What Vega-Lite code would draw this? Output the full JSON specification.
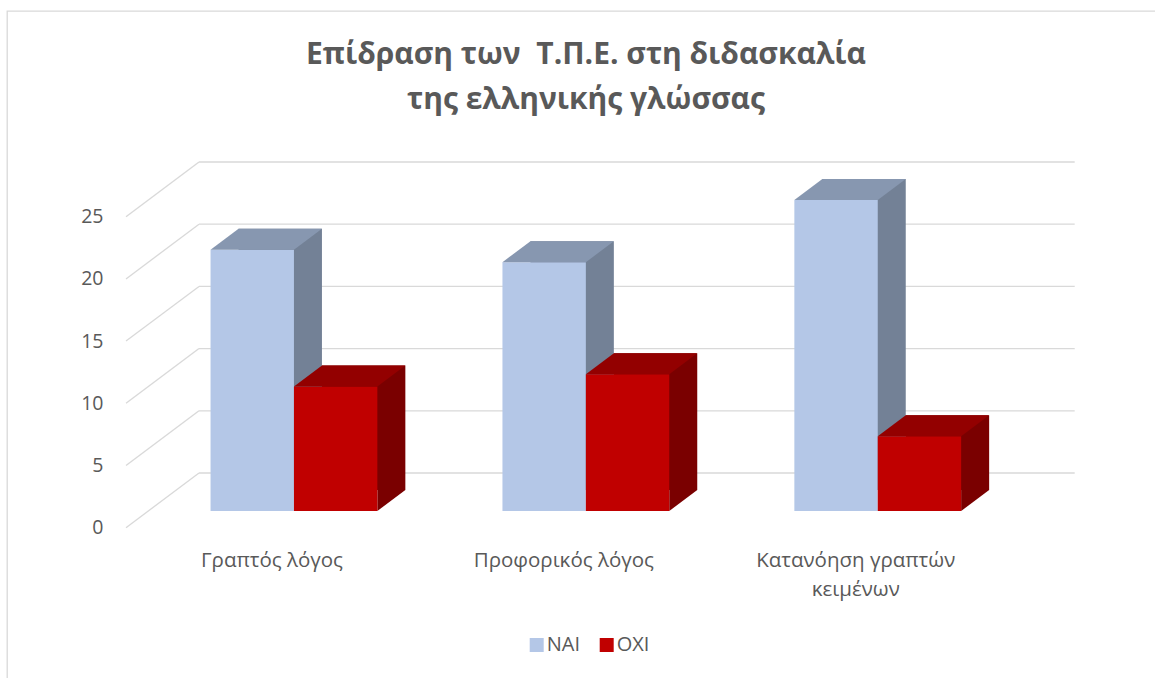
{
  "$schema": "https://vega.github.io/schema/vega-lite/v6.json",
  "width": 1158,
  "height": 672,
  "autosize": {"type": "none"},
  "padding": {"left": 7, "top": 11, "right": -10, "bottom": -5},
  "background": "white",
  "config": {
    "view": {"stroke": "#D9D9D9", "strokeWidth": 1.3},
    "font": "Open Sans"
  },
  "title": {
    "text": ["Επίδραση των \u00a0Τ.Π.Ε. στη διδασκαλία", "της ελληνικής γλώσσας"],
    "font": "Open Sans",
    "fontSize": 30,
    "fontWeight": "bold",
    "color": "#595959",
    "anchor": "middle",
    "frame": "group",
    "baseline": "alphabetic",
    "lineHeight": 45,
    "offset": -128
  },
  "datasets": {
    "bars": [
      {"cat": "Γραπτός λόγος", "series": "ΝΑΙ", "value": 21},
      {"cat": "Γραπτός λόγος", "series": "ΟΧΙ", "value": 10},
      {"cat": "Προφορικός λόγος", "series": "ΝΑΙ", "value": 20},
      {"cat": "Προφορικός λόγος", "series": "ΟΧΙ", "value": 11},
      {"cat": "Κατανόηση γραπτών κειμένων", "series": "ΝΑΙ", "value": 25},
      {"cat": "Κατανόηση γραπτών κειμένων", "series": "ΟΧΙ", "value": 6}
    ],
    "ticks": [
      {"value": 0}, {"value": 5}, {"value": 10}, {"value": 15}, {"value": 20}, {"value": 25}
    ]
  },
  "encoding": {
    "x": {
      "field": "cat",
      "type": "nominal",
      "sort": null,
      "scale": {
        "domain": ["Γραπτός λόγος", "Προφορικός λόγος", "Κατανόηση γραπτών κειμένων"],
        "range": [119, 994.7],
        "paddingInner": 0,
        "paddingOuter": 0
      },
      "axis": {
        "orient": "bottom",
        "offset": -155.3,
        "domain": false,
        "ticks": false,
        "grid": false,
        "labelPadding": 38.3,
        "labelBaseline": "alphabetic",
        "labelFont": "Open Sans",
        "labelFontSize": 20.5,
        "labelColor": "#595959",
        "labelLimit": 0,
        "labelAngle": 0,
        "labelLineHeight": 29,
        "labelExpr": "datum.label == 'Κατανόηση γραπτών κειμένων' ? ['Κατανόηση γραπτών', 'κειμένων'] : datum.label",
        "title": null
      }
    },
    "y": {
      "field": "value",
      "type": "quantitative",
      "stack": null,
      "scale": {"domain": [0, 25], "range": [516.7, 205.7], "nice": false, "zero": true},
      "axis": {
        "orient": "left",
        "offset": -119,
        "domain": false,
        "ticks": false,
        "grid": false,
        "labelPadding": 23,
        "values": [0, 5, 10, 15, 20, 25],
        "labelFont": "Open Sans",
        "labelFontSize": 19.5,
        "labelColor": "#595959",
        "title": null
      }
    }
  },
  "layer": [
    {
      "data": {"name": "ticks"},
      "mark": {"type": "rule", "color": "#D9D9D9", "strokeWidth": 1.3, "xOffset": 73, "x2Offset": 73, "yOffset": -54.7, "y2Offset": -54.7},
      "encoding": {
        "x": {"datum": "Γραπτός λόγος", "type": "nominal", "bandPosition": 0},
        "x2": {"datum": "Κατανόηση γραπτών κειμένων", "bandPosition": 1},
        "y2": {"field": "value"}
      }
    },
    {
      "data": {"name": "ticks"},
      "mark": {"type": "rule", "color": "#D9D9D9", "strokeWidth": 1.3, "x2Offset": 73, "y2Offset": -54.7},
      "encoding": {
        "x": {"datum": "Γραπτός λόγος", "type": "nominal", "bandPosition": 0},
        "x2": {"datum": "Γραπτός λόγος", "bandPosition": 0},
        "y2": {"field": "value"}
      }
    },
    {
      "data": {"name": "bars"},
      "transform": [{"filter": "datum.series == 'ΝΑΙ'"}],
      "mark": {"type": "bar", "width": {"band": 0.2857}, "color": "#738196", "xOffset": 8.3, "yOffset": -37.7, "y2Offset": -37.7},
      "encoding": {"y2": {"datum": 0}}
    },
    {
      "data": {"name": "bars"},
      "transform": [{"filter": "datum.series == 'ΟΧΙ'"}],
      "mark": {"type": "bar", "width": {"band": 0.2857}, "color": "#7A0000", "xOffset": 91.7, "yOffset": -37.7, "y2Offset": -37.7},
      "encoding": {"y2": {"datum": 0}}
    },
    {
      "data": {"name": "bars"},
      "transform": [{"filter": "datum.series == 'ΟΧΙ'"}],
      "mark": {"type": "point", "shape": "M41.7,0L41.7,-21L69.7,-21Z", "size": 4, "filled": true, "opacity": 1, "strokeWidth": 0, "color": "#7A0000", "xOffset": 63.7, "yOffset": -16.7},
      "encoding": {"y": {"datum": 0, "type": "quantitative"}}
    },
    {
      "data": {"name": "bars"},
      "transform": [{"filter": "datum.series == 'ΝΑΙ'"}],
      "mark": {"type": "bar", "width": {"band": 0.2857}, "xOffset": -19.7, "yOffset": -16.7, "y2Offset": -16.7},
      "encoding": {
        "y2": {"datum": 0},
        "color": {
          "field": "series",
          "type": "nominal",
          "scale": {"domain": ["ΝΑΙ", "ΟΧΙ"], "range": ["#B4C7E7", "#C00000"]},
          "legend": {
            "orient": "none",
            "legendX": 519.7,
            "legendY": 624,
            "direction": "horizontal",
            "title": null,
            "symbolType": "square",
            "symbolSize": 196,
            "symbolStrokeWidth": 0,
            "symbolOpacity": 1,
            "labelFont": "Open Sans",
            "labelFontSize": 20,
            "labelColor": "#595959",
            "labelOffset": 0,
            "columnPadding": 16,
            "padding": 0
          }
        }
      }
    },
    {
      "data": {"name": "bars"},
      "transform": [{"filter": "datum.series == 'ΟΧΙ'"}],
      "mark": {"type": "bar", "width": {"band": 0.2857}, "xOffset": 63.7, "yOffset": -16.7, "y2Offset": -16.7},
      "encoding": {
        "y2": {"datum": 0},
        "color": {"field": "series", "type": "nominal"}
      }
    },
    {
      "data": {"name": "bars"},
      "transform": [{"filter": "datum.series == 'ΝΑΙ'"}],
      "mark": {"type": "point", "shape": "M-41.7,0L41.7,0L69.7,-21L-13.7,-21Z", "size": 4, "filled": true, "opacity": 1, "strokeWidth": 0, "color": "#8797B0", "xOffset": -19.7, "yOffset": -16.7}
    },
    {
      "data": {"name": "bars"},
      "transform": [{"filter": "datum.series == 'ΟΧΙ'"}],
      "mark": {"type": "point", "shape": "M-41.7,0L41.7,0L69.7,-21L-13.7,-21Z", "size": 4, "filled": true, "opacity": 1, "strokeWidth": 0, "color": "#930000", "xOffset": 63.7, "yOffset": -16.7}
    }
  ]
}
